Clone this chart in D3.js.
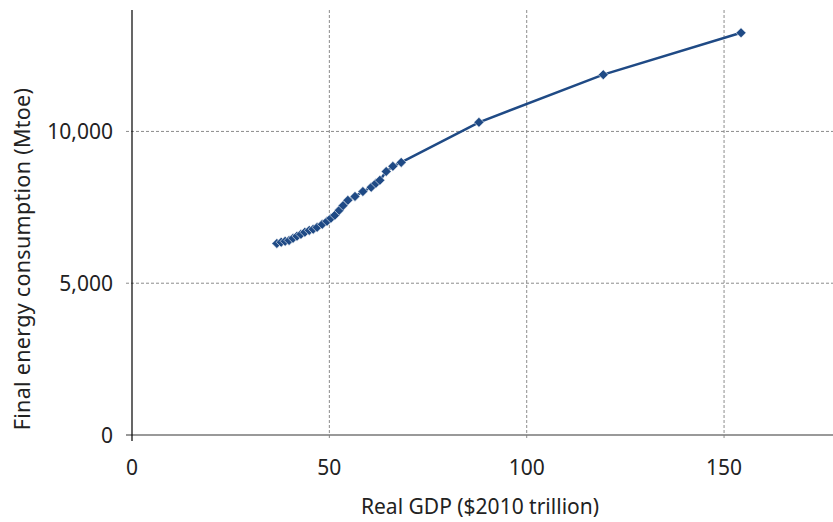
<!DOCTYPE html>
<html>
<head>
<meta charset="utf-8">
<script src="https://cdn.jsdelivr.net/npm/d3@7"></script>
<style>
    body { margin: 0; background: #fff; }
    text { font-family: "Noto Sans", "Open Sans", sans-serif; fill: #222; }
</style>
</head>
<body>
<div id="chart"></div>
<script>
// real GDP ($2010 trillion) and final energy consumption (Mtoe)
const gdp = [36.7, 37.8, 38.8, 39.8, 40.8, 41.8, 42.8, 43.8, 44.9, 45.9, 46.9, 48.2, 49.4,
    50.4, 51.4, 52.5, 53.5, 54.7, 56.5, 58.5, 60.6, 61.8, 62.8, 64.4, 66.1, 68.2,
    87.9, 119.4, 154.3];
const energy = [6310, 6350, 6380, 6410, 6480, 6550, 6610, 6680, 6740, 6780, 6840, 6940, 7040,
    7140, 7240, 7400, 7560, 7730, 7860, 8020, 8160, 8290, 8390, 8680, 8850, 8980,
    10300, 11870, 13250];
const xTicks = [0, 50, 100, 150];
const yTicks = [0, 5000, 10000];

const width = 833;
const height = 522;
const margin = { top: 10, right: 0, bottom: 87, left: 132 };

const svg = d3.select("#chart")
    .append("svg")
    .attr("width", width)
    .attr("height", height);

const xScale = d3.scaleLinear()
    .domain([0, 177.6])
    .range([margin.left, width - margin.right]);

const yScale = d3.scaleLinear()
    .domain([0, 14000])
    .range([height - margin.bottom, margin.top]);

const y0 = yScale(0);

// dashed gridlines
svg.selectAll(".vgrid")
    .data(xTicks.filter(d => d > 0))
    .enter()
    .append("line")
    .attr("x1", d => xScale(d))
    .attr("x2", d => xScale(d))
    .attr("y1", margin.top)
    .attr("y2", y0 + 5)
    .attr("stroke", "#8c8c8c")
    .attr("stroke-width", 1)
    .attr("stroke-dasharray", "3,2");

svg.selectAll(".hgrid")
    .data(yTicks.filter(d => d > 0))
    .enter()
    .append("line")
    .attr("x1", margin.left - 6)
    .attr("x2", width)
    .attr("y1", d => yScale(d))
    .attr("y2", d => yScale(d))
    .attr("stroke", "#8c8c8c")
    .attr("stroke-width", 1)
    .attr("stroke-dasharray", "3,2");

// x axis line (grey) and y axis line (black)
svg.append("line")
    .attr("x1", margin.left - 6)
    .attr("x2", width)
    .attr("y1", y0)
    .attr("y2", y0)
    .attr("stroke", "#777")
    .attr("stroke-width", 1.5);

svg.append("line")
    .attr("x1", margin.left)
    .attr("x2", margin.left)
    .attr("y1", margin.top)
    .attr("y2", y0 + 6)
    .attr("stroke", "#000")
    .attr("stroke-width", 1.2);

// tick labels
svg.selectAll(".xlabel")
    .data(xTicks)
    .enter()
    .append("text")
    .attr("x", d => xScale(d))
    .attr("y", y0 + 40)
    .attr("text-anchor", "middle")
    .attr("font-size", 21)
    .text(d => d);

svg.selectAll(".ylabel")
    .data(yTicks)
    .enter()
    .append("text")
    .attr("x", margin.left - 19)
    .attr("y", d => yScale(d) + 8)
    .attr("text-anchor", "end")
    .attr("font-size", 21)
    .text(d3.format(","));

// axis titles
svg.append("text")
    .attr("x", 480)
    .attr("y", 514)
    .attr("text-anchor", "middle")
    .attr("font-size", 21)
    .text("Real GDP ($2010 trillion)");

svg.append("text")
    .attr("transform", "translate(30,259) rotate(-90)")
    .attr("text-anchor", "middle")
    .attr("font-size", 21.5)
    .attr("letter-spacing", 0.3)
    .text("Final energy consumption (Mtoe)");

// series
const points = gdp.map((g, i) => ({ x: g, y: energy[i] }));

const line = d3.line()
    .x(d => xScale(d.x))
    .y(d => yScale(d.y));

svg.append("path")
    .datum(points)
    .attr("d", line)
    .attr("fill", "none")
    .attr("stroke", "#1f4a85")
    .attr("stroke-width", 2.5);

svg.selectAll(".marker")
    .data(points)
    .enter()
    .append("path")
    .attr("class", "marker")
    .attr("d", d3.symbol().type(d3.symbolDiamond2).size(64))
    .attr("transform", d => `translate(${xScale(d.x)},${yScale(d.y)})`)
    .attr("fill", "#1f4a85")
    .attr("stroke", "#fff")
    .attr("stroke-width", 0.6);
</script>
</body>
</html>
